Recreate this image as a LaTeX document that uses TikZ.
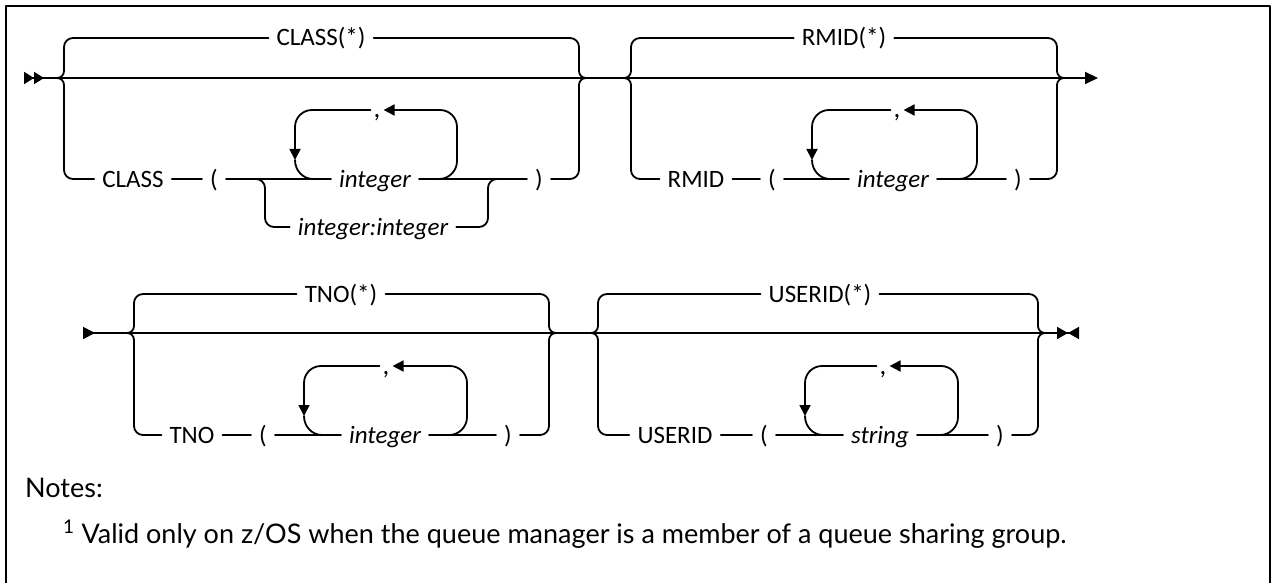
\documentclass[tikz,border=0pt]{standalone}
\usepackage{fontspec}
\setmainfont{Carlito}
\newfontfamily\notefont{Lato}
\usetikzlibrary{arrows.meta,positioning}

\begin{document}
\begin{tikzpicture}[x=1pt,y=-1pt,>=Latex,line cap=round,line join=round]
\path[use as bounding box,fill=white] (0,0) rectangle (1274,583);
\tikzset{track/.style={draw=black,line width=1.8pt},kw/.style={font=\fontsize{25}{30}\selectfont,inner xsep=8pt,inner ysep=0pt,text height=16pt,text depth=0pt},var/.style={kw,font=\fontsize{25}{30}\selectfont\itshape},sepc/.style={kw,inner xsep=3pt,font=\fontsize{27}{30}\selectfont},loopa/.style={track,-{Triangle[length=11pt,width=11pt]}},notetext/.style={anchor=base west,inner sep=0pt,font=\notefont\fontsize{27}{32}\selectfont}}
\draw[line width=2pt] (6,583) -- (6,6) -- (1270,6) -- (1270,583);
\node[kw] (clsstar) at (321,38) {CLASS(*)}; \node[kw] (cls) at (133,179) {CLASS}; \node[kw] (po1) at (214,179) {(}; \node[var] (int1) at (375,179) {integer}; \node[kw] (pc1) at (539,179) {)}; \node[sepc] (cm1) at (377,110) {,}; \node[var] (ii) at (373,227) {integer:integer};
\node[kw] (rmstar) at (844,38) {RMID(*)}; \node[kw] (rm) at (696,179) {RMID}; \node[kw] (po2) at (772,179) {(}; \node[var] (int2) at (893,179) {integer}; \node[kw] (pc2) at (1018,179) {)}; \node[sepc] (cm2) at (897,110) {,};
\node[kw] (tnstar) at (341,294) {TNO(*)}; \node[kw] (tn) at (192,435) {TNO}; \node[kw] (po3) at (263,435) {(}; \node[var] (int3) at (385,435) {integer}; \node[kw] (pc3) at (508,435) {)}; \node[sepc] (cm3) at (386,366) {,};
\node[kw] (usstar) at (820,294) {USERID(*)}; \node[kw] (us) at (675,435) {USERID}; \node[kw] (po4) at (764,435) {(}; \node[var] (str) at (880,435) {string}; \node[kw] (pc4) at (1000,435) {)}; \node[sepc] (cm4) at (883,366) {,};
\draw[track,{Triangle[reversed,length=10pt,width=12pt]Triangle[reversed,length=10pt,width=12pt]}-{Triangle[length=13pt,width=12pt]}] (24,78) -- (1098,78);
\draw[track,{Triangle[reversed,length=12pt,width=12pt]}-{Triangle[length=11pt,width=12pt]Triangle[reversed,length=11pt,width=12pt]}] (83,333) -- (1079,333);
\foreach \l/\r/\t/\m/\b/\s/\k/\p/\v/\c in {64/579/38/78/179/clsstar/cls/po1/int1/pc1,631/1057/38/78/179/rmstar/rm/po2/int2/pc2,134/549/294/333/435/tnstar/tn/po3/int3/pc3,598/1038/294/333/435/usstar/us/po4/str/pc4}{
\draw[track] (\l-7,\m) to[out=0,in=-90] (\l,\m-7) -- (\l,\t+9) to[out=90,in=180] (\l+9,\t) -- (\s.west) (\s.east) -- (\r-9,\t) to[out=0,in=90] (\r,\t+9) -- (\r,\m-7) to[out=-90,in=180] (\r+7,\m);
\draw[track] (\l-7,\m) to[out=0,in=90] (\l,\m+7) -- (\l,\b-9) to[out=-90,in=180] (\l+9,\b) -- (\k.west) (\k.east) -- (\p.west) (\p.east) -- (\v.west) (\v.east) -- (\c.west) (\c.east) -- (\r-9,\b) to[out=0,in=-90] (\r,\b-9) -- (\r,\m+7) to[out=90,in=180] (\r+7,\m);
}
\foreach \a/\z/\t/\m/\c in {295/457/110/179/cm1,812/977/110/179/cm2,304/467/366/435/cm3,805/958/366/435/cm4}{
\draw[loopa] (\z-18,\m) to[out=0,in=-90] (\z,\m-18) -- (\z,\t+17) to[out=90,in=0] (\z-17,\t) -- (\c.east);
\draw[loopa] (\c.west) -- (\a+17,\t) to[out=180,in=90] (\a,\t+17) -- (\a,\m-19);
\draw[track] (\a,\m-19) to[out=-90,in=180] (\a+18,\m);
}
\draw[track] (256,179) to[out=0,in=90] (265,188) -- (265,218) to[out=-90,in=180] (274,227) -- (ii.west) (ii.east) -- (479,227) to[out=0,in=-90] (488,218) -- (488,188) to[out=90,in=180] (497,179);
\node[notetext] (notes) at (25,497) {Notes:};
\node[notetext] (fn) at (63,543) {\textsuperscript{1} Valid only on z/OS when the queue manager is a member of a queue sharing group.};
\end{tikzpicture}
\end{document}
